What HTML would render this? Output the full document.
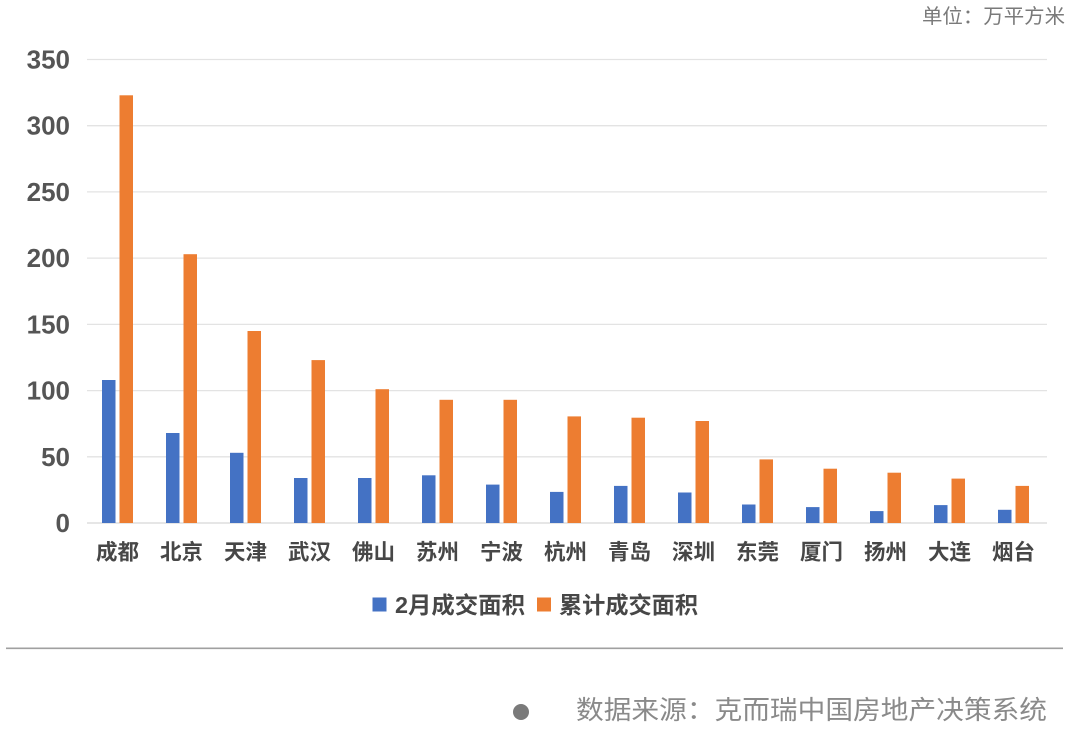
<!DOCTYPE html>
<html><head><meta charset="utf-8"><style>
html,body{margin:0;padding:0;background:#fff;}
svg{display:block;}
text{font-family:"Liberation Sans","Noto Sans CJK SC",sans-serif;}
</style></head><body>
<svg width="1080" height="739" viewBox="0 0 1080 739" xmlns="http://www.w3.org/2000/svg">
<rect width="1080" height="739" fill="#fff"/>
<text x="922" y="17" dominant-baseline="central" font-size="20" fill="#7a7a7a" textLength="143" lengthAdjust="spacingAndGlyphs">单位：万平方米</text>
<g stroke="#e3e3e3" stroke-width="1.3">
<line x1="87" x2="1047" y1="59.5" y2="59.5"/>
<line x1="87" x2="1047" y1="125.7" y2="125.7"/>
<line x1="87" x2="1047" y1="191.9" y2="191.9"/>
<line x1="87" x2="1047" y1="258.1" y2="258.1"/>
<line x1="87" x2="1047" y1="324.4" y2="324.4"/>
<line x1="87" x2="1047" y1="390.6" y2="390.6"/>
<line x1="87" x2="1047" y1="456.8" y2="456.8"/>
<line x1="87" x2="1047" y1="523" y2="523" stroke="#d6d6d6"/>
</g>
<g font-size="26" font-weight="bold" fill="#555" text-anchor="end" dominant-baseline="central">
<text x="70" y="59.5">350</text>
<text x="70" y="125.7">300</text>
<text x="70" y="191.9">250</text>
<text x="70" y="258.1">200</text>
<text x="70" y="324.4">150</text>
<text x="70" y="390.6">100</text>
<text x="70" y="456.8">50</text>
<text x="70" y="523">0</text>
</g>
<g fill="#4472c4">
<rect x="102" y="380.0" width="13.5" height="143.0"/>
<rect x="166" y="433.0" width="13.5" height="90.0"/>
<rect x="230" y="452.8" width="13.5" height="70.2"/>
<rect x="294" y="478.0" width="13.5" height="45.0"/>
<rect x="358" y="478.0" width="13.5" height="45.0"/>
<rect x="422" y="475.3" width="13.5" height="47.7"/>
<rect x="486" y="484.6" width="13.5" height="38.4"/>
<rect x="550" y="491.9" width="13.5" height="31.1"/>
<rect x="614" y="485.9" width="13.5" height="37.1"/>
<rect x="678" y="492.5" width="13.5" height="30.5"/>
<rect x="742" y="504.5" width="13.5" height="18.5"/>
<rect x="806" y="507.1" width="13.5" height="15.9"/>
<rect x="870" y="511.1" width="13.5" height="11.9"/>
<rect x="934" y="505.1" width="13.5" height="17.9"/>
<rect x="998" y="509.8" width="13.5" height="13.2"/>
</g>
<g fill="#ed7d31">
<rect x="119.5" y="95.3" width="13.5" height="427.7"/>
<rect x="183.5" y="254.2" width="13.5" height="268.8"/>
<rect x="247.5" y="331.0" width="13.5" height="192.0"/>
<rect x="311.5" y="360.1" width="13.5" height="162.9"/>
<rect x="375.5" y="389.2" width="13.5" height="133.8"/>
<rect x="439.5" y="399.8" width="13.5" height="123.2"/>
<rect x="503.5" y="399.8" width="13.5" height="123.2"/>
<rect x="567.5" y="416.4" width="13.5" height="106.6"/>
<rect x="631.5" y="417.7" width="13.5" height="105.3"/>
<rect x="695.5" y="421.0" width="13.5" height="102.0"/>
<rect x="759.5" y="459.4" width="13.5" height="63.6"/>
<rect x="823.5" y="468.7" width="13.5" height="54.3"/>
<rect x="887.5" y="472.7" width="13.5" height="50.3"/>
<rect x="951.5" y="478.6" width="13.5" height="44.4"/>
<rect x="1015.5" y="485.9" width="13.5" height="37.1"/>
</g>
<g font-size="21.5" font-weight="bold" fill="#474747" text-anchor="middle" dominant-baseline="central">
<text x="117.5" y="552.5" textLength="43" lengthAdjust="spacingAndGlyphs">成都</text>
<text x="181.5" y="552.5" textLength="43" lengthAdjust="spacingAndGlyphs">北京</text>
<text x="245.5" y="552.5" textLength="43" lengthAdjust="spacingAndGlyphs">天津</text>
<text x="309.5" y="552.5" textLength="43" lengthAdjust="spacingAndGlyphs">武汉</text>
<text x="373.5" y="552.5" textLength="43" lengthAdjust="spacingAndGlyphs">佛山</text>
<text x="437.5" y="552.5" textLength="43" lengthAdjust="spacingAndGlyphs">苏州</text>
<text x="501.5" y="552.5" textLength="43" lengthAdjust="spacingAndGlyphs">宁波</text>
<text x="565.5" y="552.5" textLength="43" lengthAdjust="spacingAndGlyphs">杭州</text>
<text x="629.5" y="552.5" textLength="43" lengthAdjust="spacingAndGlyphs">青岛</text>
<text x="693.5" y="552.5" textLength="43" lengthAdjust="spacingAndGlyphs">深圳</text>
<text x="757.5" y="552.5" textLength="43" lengthAdjust="spacingAndGlyphs">东莞</text>
<text x="821.5" y="552.5" textLength="43" lengthAdjust="spacingAndGlyphs">厦门</text>
<text x="885.5" y="552.5" textLength="43" lengthAdjust="spacingAndGlyphs">扬州</text>
<text x="949.5" y="552.5" textLength="43" lengthAdjust="spacingAndGlyphs">大连</text>
<text x="1013.5" y="552.5" textLength="43" lengthAdjust="spacingAndGlyphs">烟台</text>
</g>
<rect x="372.5" y="597.5" width="14" height="14" fill="#4472c4"/>
<text x="395" y="605" dominant-baseline="central" font-size="23" font-weight="bold" fill="#474747" textLength="130" lengthAdjust="spacingAndGlyphs">2月成交面积</text>
<rect x="537" y="597.5" width="14" height="14" fill="#ed7d31"/>
<text x="559" y="605" dominant-baseline="central" font-size="23" font-weight="bold" fill="#474747" textLength="139" lengthAdjust="spacingAndGlyphs">累计成交面积</text>
<line x1="6" x2="1063" y1="648.3" y2="648.3" stroke="#a0a0a0" stroke-width="1.6"/>
<circle cx="521" cy="712" r="8" fill="#7a7a7a"/>
<text x="576" y="710" dominant-baseline="central" font-size="26" fill="#8a8a8a" textLength="471" lengthAdjust="spacingAndGlyphs">数据来源：克而瑞中国房地产决策系统</text>
</svg>
</body></html>
